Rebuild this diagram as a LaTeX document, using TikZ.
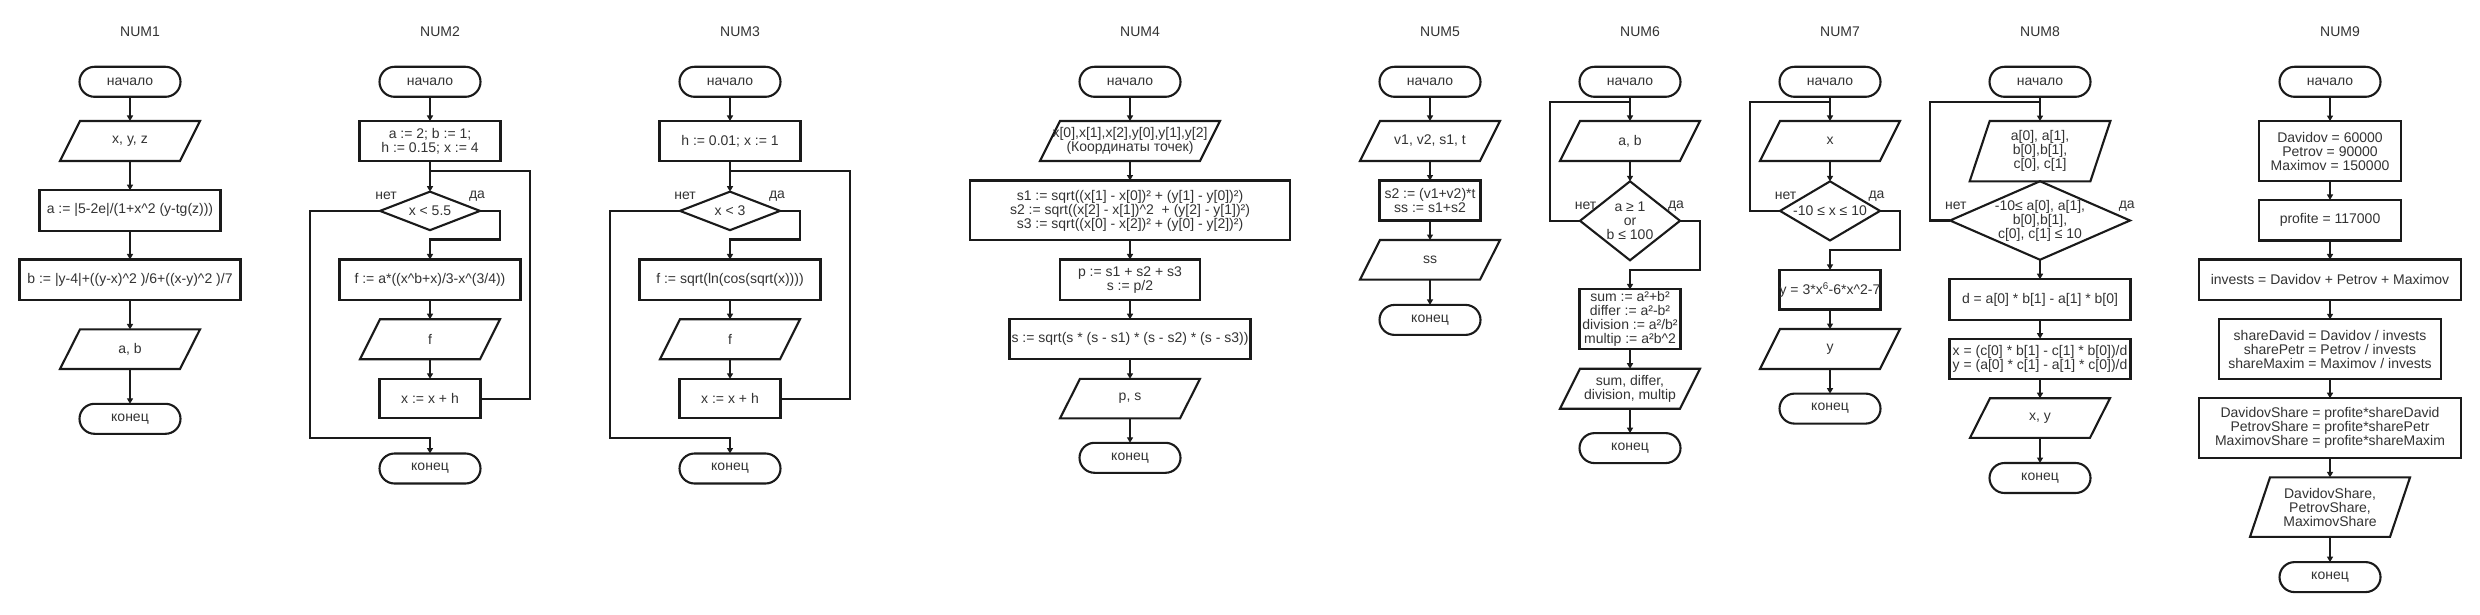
\documentclass[tikz,border=0pt]{standalone}
\usepackage{fontspec}
\setmainfont{Liberation Sans}
\usetikzlibrary{arrows.meta,calc}
\definecolor{ln}{HTML}{1A1A1A}
\definecolor{txt}{HTML}{333333}
\tikzset{
  every node/.style={inner sep=0pt, outer sep=0pt, align=center, text=txt, font=\fontsize{14}{14}\selectfont},
  shp/.style={draw=ln, line width=2.1pt, line join=miter},
  term/.style={shp, rounded corners=15pt, minimum width=101pt, minimum height=30pt},
  proc/.style={shp},
  conn/.style={draw=ln, line width=2.1pt},
  arr/.style={conn, -{Triangle[length=5.5pt,width=6pt]}},
  ttl/.style={font=\fontsize{14}{14}\selectfont},
  lbl/.style={font=\fontsize{14}{14}\selectfont},
}
\newcommand\ioshape[1]{\draw[shp] ([xshift=20pt]#1.north west) -- (#1.north east) -- ([xshift=-20pt]#1.south east) -- (#1.south west) -- cycle;}
\newcommand\diashape[1]{\draw[shp] (#1.north) -- (#1.east) -- (#1.south) -- (#1.west) -- cycle;}
\begin{document}
\begin{tikzpicture}[x=1pt,y=-1pt]
\useasboundingbox (0,0) rectangle (2480,615);
\fill[white] (0,0) rectangle (2480,615);

% ---------------- NUM1
\node[ttl] (n1) at (140,31.6) {NUM1};
\node[term] (t1s) at (130,81.8) {начало};
\node[minimum width=140pt,minimum height=40pt] (i1a) at (130,141) {x, y, z}; \ioshape{i1a}
\node[proc,minimum width=181pt,minimum height=40.5pt] (p1a) at (130,210.4) {a := |5-2e|/(1+x\textasciicircum2 (y-tg(z)))};
\node[proc,minimum width=221pt,minimum height=40.5pt] (p1b) at (130,279.7) {b := |y-4|+((y-x)\textasciicircum2 )/6+((x-y)\textasciicircum2 )/7};
\node[minimum width=140pt,minimum height=39.6pt] (i1b) at (130,349.2) {a, b}; \ioshape{i1b}
\node[term] (t1e) at (130,418.8) {конец};
\draw[arr] (t1s.south) -- (i1a.north);
\draw[arr] (i1a.south) -- (p1a.north);
\draw[arr] (p1a.south) -- (p1b.north);
\draw[arr] (p1b.south) -- (i1b.north);
\draw[arr] (i1b.south) -- (t1e.north);

% ---------------- NUM2
\node[ttl] (n2) at (440,31.6) {NUM2};
\node[term] (t2s) at (430,81.8) {начало};
\node[proc,minimum width=141pt,minimum height=40pt] (p2a) at (430,141) {a := 2; b := 1;\\h := 0.15; x := 4};
\node[minimum width=100pt,minimum height=38.5pt] (d2) at (430,210.9) {x < 5.5}; \diashape{d2}
\node[proc,minimum width=181pt,minimum height=40.5pt] (p2b) at (430,279.7) {f := a*((x\textasciicircum b+x)/3-x\textasciicircum(3/4))};
\node[minimum width=140pt,minimum height=40pt] (i2) at (430,339.2) {f}; \ioshape{i2}
\node[proc,minimum width=101pt,minimum height=39.6pt] (p2c) at (430,398.6) {x := x + h};
\node[term] (t2e) at (430,468.5) {конец};
\node[lbl] (no2) at (386,196.1) {нет};
\node[lbl] (yes2) at (477,196.1) {да};
\coordinate (r2) at (530,170.8);
\coordinate (j2) at (430,170.8);
\coordinate (nb2) at (310,437.8);
\coordinate (ya2) at (500,239.5);
\draw[arr] (t2s.south) -- (p2a.north);
\draw[arr] (p2a.south) -- (d2.north);
\draw[arr] (d2.east) -| (ya2) -| (p2b.north);
\draw[arr] (p2b.south) -- (i2.north);
\draw[arr] (i2.south) -- (p2c.north);
\draw[conn] (p2c.east) -| (r2) -- (j2);
\draw[arr] (d2.west) -| (nb2) -| (t2e.north);

% ---------------- NUM3
\node[ttl] (n3) at (740,31.6) {NUM3};
\node[term] (t3s) at (730,81.8) {начало};
\node[proc,minimum width=141pt,minimum height=40pt] (p3a) at (730,141) {h := 0.01; x := 1};
\node[minimum width=100pt,minimum height=38.5pt] (d3) at (730,210.9) {x < 3}; \diashape{d3}
\node[proc,minimum width=181pt,minimum height=40.5pt] (p3b) at (730,279.7) {f := sqrt(ln(cos(sqrt(x))))};
\node[minimum width=140pt,minimum height=40pt] (i3) at (730,339.2) {f}; \ioshape{i3}
\node[proc,minimum width=101pt,minimum height=39.6pt] (p3c) at (730,398.6) {x := x + h};
\node[term] (t3e) at (730,468.5) {конец};
\node[lbl] (no3) at (685,196.1) {нет};
\node[lbl] (yes3) at (777,196.1) {да};
\coordinate (r3) at (850,170.8);
\coordinate (j3) at (730,170.8);
\coordinate (nb3) at (610,437.8);
\coordinate (ya3) at (800,239.5);
\draw[arr] (t3s.south) -- (p3a.north);
\draw[arr] (p3a.south) -- (d3.north);
\draw[arr] (d3.east) -| (ya3) -| (p3b.north);
\draw[arr] (p3b.south) -- (i3.north);
\draw[arr] (i3.south) -- (p3c.north);
\draw[conn] (p3c.east) -| (r3) -- (j3);
\draw[arr] (d3.west) -| (nb3) -| (t3e.north);

% ---------------- NUM4
\node[ttl] (n4) at (1140,31.6) {NUM4};
\node[term] (t4s) at (1130,81.8) {начало};
\node[minimum width=180pt,minimum height=40pt] (i4a) at (1130,141) {x[0],x[1],x[2],y[0],y[1],y[2]\\(Координаты точек)}; \ioshape{i4a}
\node[proc,minimum width=320.7pt,minimum height=59.8pt] (p4a) at (1130,210.4) {s1 := sqrt((x[1] - x[0])² + (y[1] - y[0])²)\\s2 := sqrt((x[2] - x[1])\textasciicircum2\ \ + (y[2] - y[1])²)\\s3 := sqrt((x[0] - x[2])² + (y[0] - y[2])²)};
\node[proc,minimum width=140.7pt,minimum height=40.5pt] (p4b) at (1130,279.7) {p := s1 + s2 + s3\\s := p/2};
\node[proc,minimum width=241pt,minimum height=40pt] (p4c) at (1130,339.2) {s := sqrt(s * (s - s1) * (s - s2) * (s - s3))};
\node[minimum width=140pt,minimum height=39.6pt] (i4b) at (1130,398.6) {p, s}; \ioshape{i4b}
\node[term] (t4e) at (1130,457.8) {конец};
\draw[arr] (t4s.south) -- (i4a.north);
\draw[arr] (i4a.south) -- (p4a.north);
\draw[arr] (p4a.south) -- (p4b.north);
\draw[arr] (p4b.south) -- (p4c.north);
\draw[arr] (p4c.south) -- (i4b.north);
\draw[arr] (i4b.south) -- (t4e.north);

% ---------------- NUM5
\node[ttl] (n5) at (1440,31.6) {NUM5};
\node[term] (t5s) at (1430,81.8) {начало};
\node[minimum width=140pt,minimum height=40pt] (i5a) at (1430,141) {v1, v2, s1, t}; \ioshape{i5a}
\node[proc,minimum width=101pt,minimum height=40pt] (p5) at (1430,200.5) {s2 := (v1+v2)*t\\ss := s1+s2};
\node[minimum width=140pt,minimum height=39.6pt] (i5b) at (1430,259.8) {ss}; \ioshape{i5b}
\node[term] (t5e) at (1430,319.9) {конец};
\draw[arr] (t5s.south) -- (i5a.north);
\draw[arr] (i5a.south) -- (p5.north);
\draw[arr] (p5.south) -- (i5b.north);
\draw[arr] (i5b.south) -- (t5e.north);

% ---------------- NUM6
\node[ttl] (n6) at (1640,31.6) {NUM6};
\node[term] (t6s) at (1630,81.8) {начало};
\node[minimum width=140pt,minimum height=40pt] (i6a) at (1630,141) {a, b}; \ioshape{i6a}
\node[minimum width=100pt,minimum height=79pt] (d6) at (1630,220.8) {a ≥ 1\\or\\b ≤ 100}; \diashape{d6}
\node[proc,minimum width=101pt,minimum height=59.8pt] (p6) at (1630,319.3) {sum := a²+b²\\differ := a²-b²\\division := a²/b²\\multip := a²b\textasciicircum2};
\node[minimum width=140pt,minimum height=40pt] (i6b) at (1630,388.7) {sum, differ,\\division, multip}; \ioshape{i6b}
\node[term] (t6e) at (1630,448.1) {конец};
\node[lbl] (no6) at (1585.5,205.7) {нет};
\node[lbl] (yes6) at (1676,205.7) {да};
\coordinate (lp6) at (1550,101.6);
\coordinate (j6) at (1630,101.6);
\coordinate (ya6) at (1700,269.9);
\draw[arr] (t6s.south) -- (i6a.north);
\draw[arr] (i6a.south) -- (d6.north);
\draw[conn] (d6.west) -| (lp6) -- (j6);
\draw[arr] (d6.east) -| (ya6) -| (p6.north);
\draw[arr] (p6.south) -- (i6b.north);
\draw[arr] (i6b.south) -- (t6e.north);

% ---------------- NUM7
\node[ttl] (n7) at (1840,31.6) {NUM7};
\node[term] (t7s) at (1830,81.8) {начало};
\node[minimum width=140pt,minimum height=40pt] (i7a) at (1830,141) {x}; \ioshape{i7a}
\node[minimum width=100pt,minimum height=59.1pt] (d7) at (1830,210.9) {-10 ≤ x ≤ 10}; \diashape{d7}
\node[proc,minimum width=101pt,minimum height=39.6pt] (p7) at (1830,289.7) {y = 3*x\textsuperscript{6}-6*x\textasciicircum2-7};
\node[minimum width=140pt,minimum height=40pt] (i7b) at (1830,349) {y}; \ioshape{i7b}
\node[term] (t7e) at (1830,408.6) {конец};
\node[lbl] (no7) at (1785.5,196.1) {нет};
\node[lbl] (yes7) at (1876.5,196.1) {да};
\coordinate (lp7) at (1750,101.6);
\coordinate (j7) at (1830,101.6);
\coordinate (ya7) at (1900,249.7);
\draw[arr] (t7s.south) -- (i7a.north);
\draw[arr] (i7a.south) -- (d7.north);
\draw[conn] (d7.west) -| (lp7) -- (j7);
\draw[arr] (d7.east) -| (ya7) -| (p7.north);
\draw[arr] (p7.south) -- (i7b.north);
\draw[arr] (i7b.south) -- (t7e.north);

% ---------------- NUM8
\node[ttl] (n8) at (2040,31.6) {NUM8};
\node[term] (t8s) at (2040,81.8) {начало};
\node[minimum width=140.7pt,minimum height=60.3pt] (i8a) at (2040,151.2) {a[0], a[1],\\b[0],b[1],\\c[0], c[1]}; \ioshape{i8a}
\node[minimum width=180pt,minimum height=78.5pt] (d8) at (2040,220.5) {-10≤ a[0], a[1],\\b[0],b[1],\\c[0], c[1] ≤ 10}; \diashape{d8}
\node[proc,minimum width=181pt,minimum height=40.8pt] (p8a) at (2040,299.6) {d = a[0] * b[1] - a[1] * b[0]};
\node[proc,minimum width=181pt,minimum height=40.1pt] (p8b) at (2040,358.7) {x = (c[0] * b[1] - c[1] * b[0])/d\\y = (a[0] * c[1] - a[1] * c[0])/d};
\node[minimum width=140pt,minimum height=39.6pt] (i8b) at (2040,418) {x, y}; \ioshape{i8b}
\node[term] (t8e) at (2040,478) {конец};
\node[lbl] (no8) at (1955.8,205.7) {нет};
\node[lbl] (yes8) at (2126.7,205.7) {да};
\coordinate (lp8) at (1930,101.6);
\coordinate (j8) at (2040,101.6);
\draw[arr] (t8s.south) -- (i8a.north);
\draw[conn] (d8.west) -| (lp8) -- (j8);
\draw[arr] (d8.south) -- (p8a.north);
\draw[arr] (p8a.south) -- (p8b.north);
\draw[arr] (p8b.south) -- (i8b.north);
\draw[arr] (i8b.south) -- (t8e.north);

% ---------------- NUM9
\node[ttl] (n9) at (2340,31.6) {NUM9};
\node[term] (t9s) at (2330,81.8) {начало};
\node[proc,minimum width=141.3pt,minimum height=60.3pt] (p9a) at (2330,151.2) {Davidov = 60000\\Petrov = 90000\\Maximov = 150000};
\node[proc,minimum width=141.3pt,minimum height=40.5pt] (p9b) at (2330,220.2) {profite = 117000};
\node[proc,minimum width=261.3pt,minimum height=40.5pt] (p9c) at (2330,279.7) {invests = Davidov + Petrov + Maximov};
\node[proc,minimum width=221.3pt,minimum height=59.5pt] (p9d) at (2330,349) {shareDavid = Davidov / invests\\sharePetr = Petrov / invests\\shareMaxim = Maximov / invests};
\node[proc,minimum width=261.3pt,minimum height=59.8pt] (p9e) at (2330,428.1) {DavidovShare = profite*shareDavid\\PetrovShare = profite*sharePetr\\MaximovShare = profite*shareMaxim};
\node[minimum width=160pt,minimum height=59.5pt] (i9) at (2330,507.1) {DavidovShare,\\PetrovShare,\\MaximovShare}; \ioshape{i9}
\node[term] (t9e) at (2330,577.1) {конец};
\draw[arr] (t9s.south) -- (p9a.north);
\draw[arr] (p9a.south) -- (p9b.north);
\draw[arr] (p9b.south) -- (p9c.north);
\draw[arr] (p9c.south) -- (p9d.north);
\draw[arr] (p9d.south) -- (p9e.north);
\draw[arr] (p9e.south) -- (i9.north);
\draw[arr] (i9.south) -- (t9e.north);
\end{tikzpicture}
\end{document}
